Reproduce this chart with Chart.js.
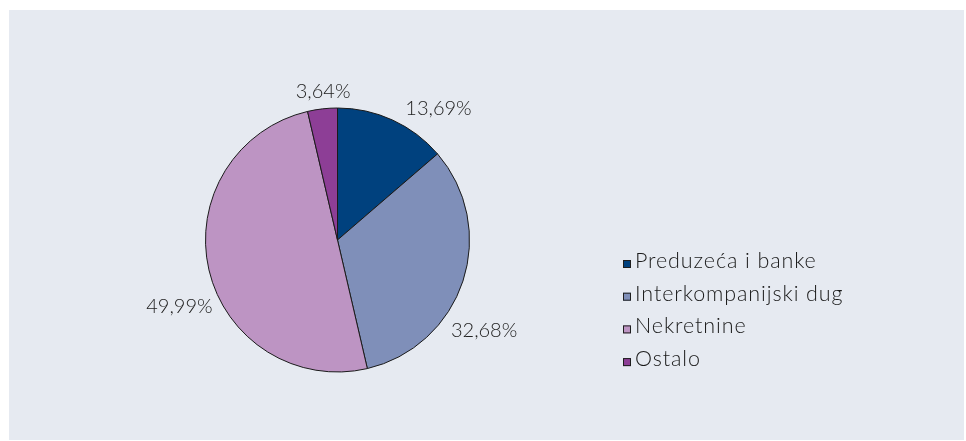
<!DOCTYPE html>
<html>
<head>
<meta charset="utf-8">
<script src="https://cdn.jsdelivr.net/npm/chart.js@4.4.0/dist/chart.umd.min.js"></script>
<style>
    html, body { margin: 0; padding: 0; background: #ffffff; }
    #panel { position: absolute; left: 9px; top: 10px; width: 955px; height: 430px; background: #e6eaf1; }
    canvas { display: block; }
</style>
</head>
<body>
<div id="panel"><canvas id="pieChart" width="955" height="430"></canvas></div>
<script>
// podaci
const categories = ['Preduzeća i banke', 'Interkompanijski dug', 'Nekretnine', 'Ostalo'];
const shares = [13.69, 32.68, 49.99, 3.64];
const sliceColors = ['#00417e', '#7f8fb9', '#bd94c3', '#8d3e96'];

const FONT = 'Lato, "Open Sans", sans-serif';

// procenti izvan pite
const outsideLabels = {
    id: 'outsideLabels',
    afterDatasetsDraw(chart, args, opts) {
        const ctx = chart.ctx;
        const meta = chart.getDatasetMeta(0);
        ctx.save();
        ctx.font = '300 20px ' + FONT;
        ctx.fillStyle = '#222222';
        ctx.textAlign = 'center';
        ctx.textBaseline = 'middle';
        meta.data.forEach((arc, i) => {
            const p = arc.getProps(['x', 'y', 'startAngle', 'endAngle', 'outerRadius'], true);
            const a = (p.startAngle + p.endAngle) / 2 + opts.nudge[i] * Math.PI / 180;
            const d = p.outerRadius * opts.dist[i];
            const txt = shares[i].toFixed(2).replace('.', ',') + '%';
            ctx.fillText(txt, p.x + Math.cos(a) * d, p.y + Math.sin(a) * d);
        });
        ctx.restore();
    }
};

// legenda desno
const sideLegend = {
    id: 'sideLegend',
    afterDraw(chart, args, opts) {
        const ctx = chart.ctx;
        ctx.save();
        ctx.font = '300 21.5px ' + FONT;
        ctx.letterSpacing = '0.9px';
        ctx.textAlign = 'left';
        ctx.textBaseline = 'alphabetic';
        categories.forEach((name, i) => {
            const base = opts.top + i * opts.step;
            ctx.fillStyle = sliceColors[i];
            ctx.fillRect(opts.left, base - 8, 8, 8);
            ctx.strokeStyle = '#1e1e1e';
            ctx.lineWidth = 1;
            ctx.strokeRect(opts.left + 0.5, base - 7.5, 7, 7);
            ctx.fillStyle = '#1a1a1a';
            ctx.fillText(name, opts.left + 12, base);
        });
        ctx.restore();
    }
};

new Chart(document.getElementById('pieChart').getContext('2d'), {
    type: 'pie',
    data: {
        labels: categories,
        datasets: [{
            data: shares,
            backgroundColor: sliceColors,
            borderColor: '#1a1a1a',
            borderWidth: 1,
        }],
    },
    options: {
        responsive: false,
        animation: false,
        layout: { padding: { left: 196, right: 494, top: 97.5, bottom: 67.5 } },
        plugins: {
            legend: { display: false },
            tooltip: { enabled: false },
            outsideLabels: { nudge: [13, 13.7, -9.8, 1], dist: [1.253, 1.307, 1.30, 1.127] },
            sideLegend: { left: 614, top: 258, step: 32.7 },
        },
    },
    plugins: [outsideLabels, sideLegend],
});
</script>
</body>
</html>
